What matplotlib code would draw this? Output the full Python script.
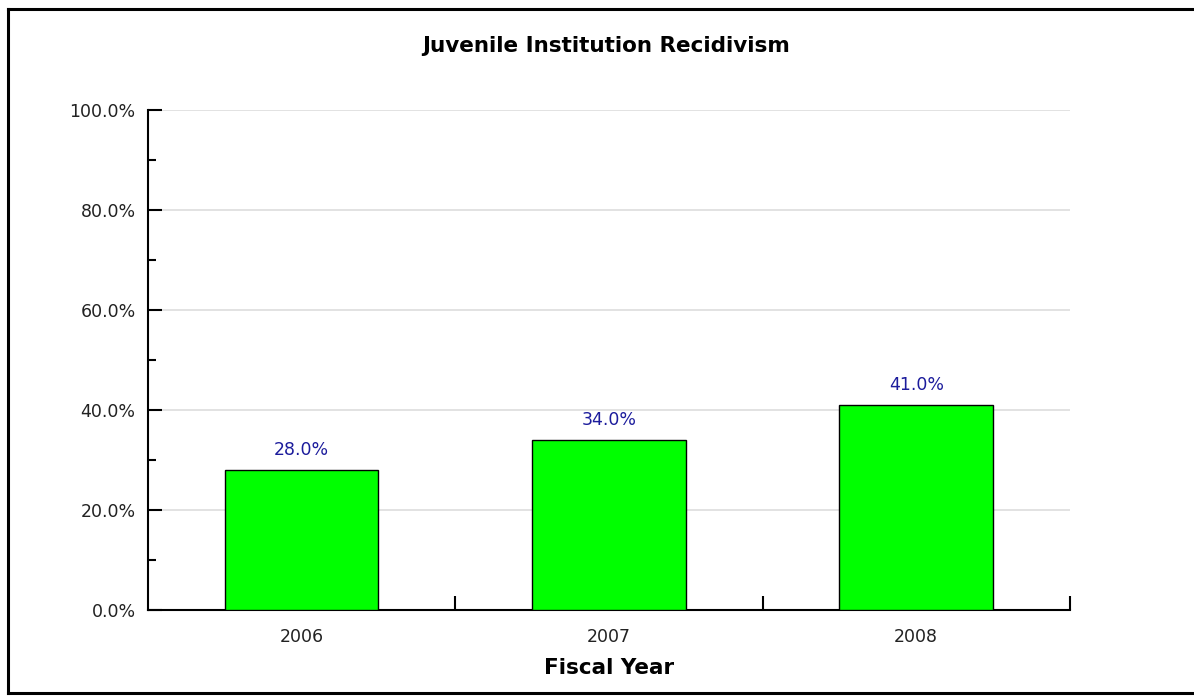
import numpy as np
import matplotlib
matplotlib.use("Agg")
import matplotlib.pyplot as plt
from matplotlib.ticker import MultipleLocator, FixedLocator, PercentFormatter
from matplotlib.lines import Line2D

plt.rcParams["font.family"] = ["DejaVu Sans"]

years = ["2006", "2007", "2008"]
recidivism = [28.0, 34.0, 41.0]

BAR_COLOR = "#00FF00"
LABEL_COLOR = "#1C1C9C"


def main():
    fig = plt.figure(figsize=(11.94, 7.0), dpi=100)
    ax = fig.add_axes([0.124, 0.129, 0.772, 0.714])

    x = np.arange(len(years))
    ax.bar(x, recidivism, width=0.5, color=BAR_COLOR, edgecolor="black",
           linewidth=1.0, zorder=3)

    for xi, v in zip(x, recidivism):
        ax.annotate(f"{v:.1f}%", (xi, v), xytext=(0, 8), textcoords="offset points",
                    ha="center", va="bottom", color=LABEL_COLOR, fontsize=12.5)

    ax.set_xlim(-0.5, 2.5)
    ax.set_ylim(0, 100)

    # y axis: major ticks every 20%, minor every 10%, pointing inward
    ax.yaxis.set_major_locator(MultipleLocator(20))
    ax.yaxis.set_minor_locator(MultipleLocator(10))
    ax.yaxis.set_major_formatter(PercentFormatter(decimals=1))
    ax.tick_params(axis="y", which="major", direction="in", length=10, width=1.5,
                   labelsize=12.5, pad=9, labelcolor="#222222")
    ax.tick_params(axis="y", which="minor", direction="in", length=6, width=1.5)

    # x axis: labels centred on bars, tick marks at category boundaries
    ax.set_xticks(x)
    ax.set_xticklabels(years)
    ax.xaxis.set_minor_locator(FixedLocator([0.5, 1.5, 2.5]))
    ax.tick_params(axis="x", which="major", length=0, labelsize=12.5, pad=13,
                   labelcolor="#222222")
    ax.tick_params(axis="x", which="minor", direction="in", length=10, width=1.5)

    ax.grid(axis="y", which="major", color="#DDDDDD", linewidth=1.2, zorder=0)
    ax.set_axisbelow(True)

    for side in ("top", "right"):
        ax.spines[side].set_visible(False)
    for side in ("left", "bottom"):
        ax.spines[side].set_linewidth(1.5)

    ax.set_xlabel("Fiscal Year", fontsize=15.5, fontweight="bold", labelpad=9)
    fig.text(0.508, 0.935, "Juvenile Institution Recidivism", ha="center",
             va="center", fontsize=15.5, fontweight="bold")

    # frame around the figure (top, left, bottom)
    frame = dict(color="black", linewidth=2.2, transform=fig.transFigure)
    fig.add_artist(Line2D([0.007, 1.0], [0.987, 0.987], **frame))
    fig.add_artist(Line2D([0.007, 0.007], [0.01, 0.987], **frame))
    fig.add_artist(Line2D([0.007, 1.0], [0.01, 0.01], **frame))

    fig.savefig("out.png", dpi=100, facecolor="white")


if __name__ == "__main__":
    main()
